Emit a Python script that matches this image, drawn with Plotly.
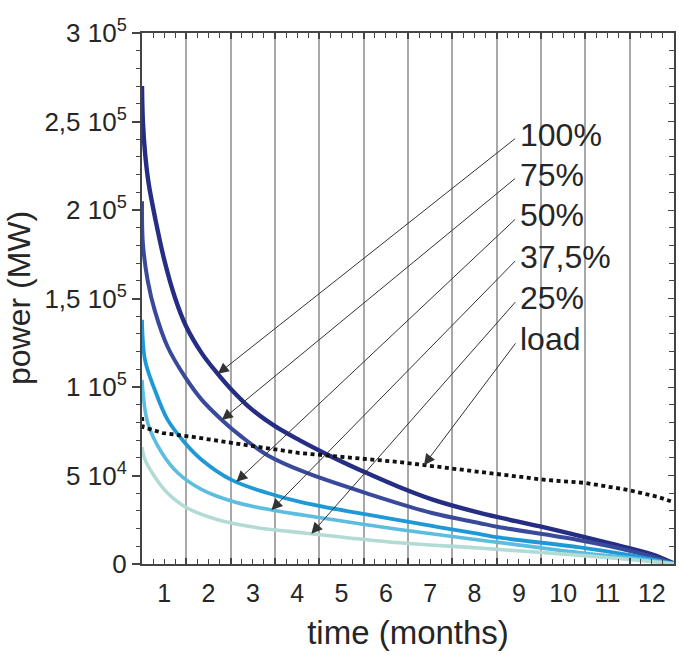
import numpy as np
import plotly.graph_objects as go

# Annual duration curves of available power, by installed share, and of the load
month_ticks = list(range(1, 13))

m_100 = [0, 0.02, 0.07, 0.15, 0.30, 0.50, 0.75, 1.00, 1.35, 1.69, 2.02, 2.47, 2.99,
         3.55, 4.29, 5.06, 5.80, 6.54, 7.60, 9.10, 10.58, 11.50, 12.0]
p_100 = [270000, 250000, 232000, 215000, 195000, 172000, 150000, 134000, 119000,
         108000, 98500, 87500, 78000, 70000, 60500, 51500, 43500, 36500, 29000,
         20500, 11500, 5500, 300]

m_75 = [0, 0.02, 0.13, 0.29, 0.58, 0.97, 1.35, 1.80, 2.25, 2.83, 3.66, 5.06, 6.54,
        7.60, 8.04, 9.84, 11.0, 12.0]
p_75 = [205000, 181000, 160000, 143000, 122600, 105700, 92700, 81400, 71800, 61500,
        52000, 40000, 28800, 23200, 20900, 13600, 7500, 300]

m_50 = [0, 0.07, 0.29, 0.58, 0.97, 1.35, 2.02, 2.83, 3.66, 5.06, 6.54, 7.60, 8.04,
        9.84, 11.0, 12.0]
p_50 = [138000, 115000, 98300, 81400, 68400, 58800, 47500, 40100, 34500, 28000,
        21500, 17000, 15000, 9500, 5000, 200]

m_375 = [0, 0.13, 0.45, 0.81, 1.35, 2.09, 2.92, 3.66, 5.80, 7.60, 8.04, 9.84, 11.0, 12.0]
p_375 = [104000, 79700, 62700, 51400, 42000, 35000, 30500, 27500, 19500, 13600,
         12200, 6500, 3500, 200]

m_25 = [0, 0.07, 0.29, 0.58, 1.03, 1.71, 2.47, 3.66, 5.80, 7.60, 9.84, 11.0, 12.0]
p_25 = [66000, 58800, 49200, 40000, 31500, 25000, 21000, 17500, 12000, 9000, 5000,
        2500, 100]

m_load = [0, 0.02, 0.47, 1.15, 2.40, 3.55, 5.80, 7.60, 9.10, 10.0, 10.97, 11.64, 11.98]
p_load = [83000, 77400, 74000, 71800, 67000, 62700, 57600, 52000, 47500, 45800,
          41800, 37900, 35000]

series_names = ["100%", "75%", "50%", "37,5%", "25%", "load"]
y_tickvals = [0, 50000, 100000, 150000, 200000, 250000, 300000]
y_ticktext = ["0", "5 10<sup>4</sup>", "1 10<sup>5</sup>", "1,5 10<sup>5</sup>",
              "2 10<sup>5</sup>", "2,5 10<sup>5</sup>", "3 10<sup>5</sup>"]

# month at which each label's arrow meets its curve
arrow_months = [1.71, 1.80, 2.13, 2.92, 3.82, 6.36]

FONT = "Liberation Sans, Arial, sans-serif"
INK = "#262626"
AXIS = "#444444"

curves = [
    (m_100, p_100, dict(color="#252d84", width=4.4)),
    (m_75, p_75, dict(color="#3a4a9a", width=4.0)),
    (m_50, p_50, dict(color="#1f99d6", width=3.8)),
    (m_375, p_375, dict(color="#5cbde0", width=3.6)),
    (m_25, p_25, dict(color="#b3dbd5", width=3.6)),
    (m_load, p_load, dict(color="#111111", width=3.8, dash="4px,3.5px")),
]

fig = go.Figure()
for (mx, py, style), name in zip(curves, series_names):
    shape = "linear" if name == "load" else "spline"
    fig.add_trace(go.Scatter(x=mx, y=py, mode="lines", name=name,
                             line=dict(shape=shape, smoothing=1.0, **style),
                             showlegend=False, hoverinfo="skip"))

# carrier for the overlaid month-label axis and the right-hand tick axis
fig.add_trace(go.Scatter(x=m_100, y=p_100, xaxis="x2", yaxis="y2", mode="none",
                         showlegend=False, hoverinfo="skip"))

# labels with arrows pointing onto their curves
label_x = 8.45
label_y = [242500, 220000, 197000, 173500, 150300, 127000]
for (mx, py, _), name, am, ly in zip(curves, series_names, arrow_months, label_y):
    tip_y = float(np.interp(am, mx, py))
    fig.add_annotation(x=am, y=tip_y, ax=label_x, ay=ly - 1500, axref="x", ayref="y",
                       text="", showarrow=True, arrowhead=2, arrowsize=2.2,
                       arrowwidth=1, arrowcolor="#333333", standoff=0)
    fig.add_annotation(x=label_x, y=ly, text=name, showarrow=False,
                       xanchor="left", yanchor="middle", xshift=1,
                       font=dict(family=FONT, size=32, color=INK))

# vertical axis title
fig.add_annotation(xref="paper", yref="paper", x=-0.232, y=0.5, text="power (MW)",
                   textangle=-90, showarrow=False, xanchor="center", yanchor="middle",
                   font=dict(family=FONT, size=32, color=INK))

fig.update_layout(
    width=679, height=661,
    margin=dict(l=142, r=3, t=33, b=97),
    paper_bgcolor="white", plot_bgcolor="white",
    font=dict(family=FONT, color=INK),
    xaxis=dict(range=[0, 12], tick0=0, dtick=1, showticklabels=False,
               ticks="inside", ticklen=6, tickwidth=1.5, tickcolor=AXIS,
               showgrid=True, gridcolor="#a8a8a8", gridwidth=1.5,
               minor=dict(dtick=0.25, tick0=0, ticks="inside", ticklen=5,
                          tickwidth=1.3, tickcolor=AXIS, showgrid=False),
               showline=True, linecolor=AXIS, linewidth=2, mirror="allticks",
               zeroline=False),
    xaxis2=dict(range=[0, 12], overlaying="x", side="bottom", anchor="y",
                tickvals=[t - 0.5 for t in month_ticks],
                ticktext=[str(t) for t in month_ticks],
                ticks="", ticklabelstandoff=12,
                showgrid=False, showline=False, zeroline=False,
                tickfont=dict(size=25, family=FONT, color=INK),
                title=dict(text="time (months)", standoff=14,
                           font=dict(size=33, family=FONT, color=INK))),
    yaxis=dict(range=[0, 300000], tickvals=y_tickvals, ticktext=y_ticktext,
               ticks="outside", ticklen=8, tickwidth=1.5, tickcolor=AXIS,
               minor=dict(dtick=10000, tick0=0, ticks="outside", ticklen=4,
                          tickwidth=1.3, tickcolor=AXIS, showgrid=False),
               showgrid=False, zeroline=False,
               showline=True, linecolor=AXIS, linewidth=2, mirror=True,
               tickfont=dict(size=26, family=FONT, color=INK)),
    yaxis2=dict(range=[0, 300000], overlaying="y", side="right", anchor="x",
                tickvals=y_tickvals, showticklabels=False,
                ticks="inside", ticklen=6, tickwidth=1.3, tickcolor=AXIS,
                minor=dict(dtick=10000, tick0=0, ticks="inside", ticklen=5,
                           tickwidth=1.3, tickcolor=AXIS, showgrid=False),
                showgrid=False, showline=False, zeroline=False),
)

fig.write_html("out.html")
